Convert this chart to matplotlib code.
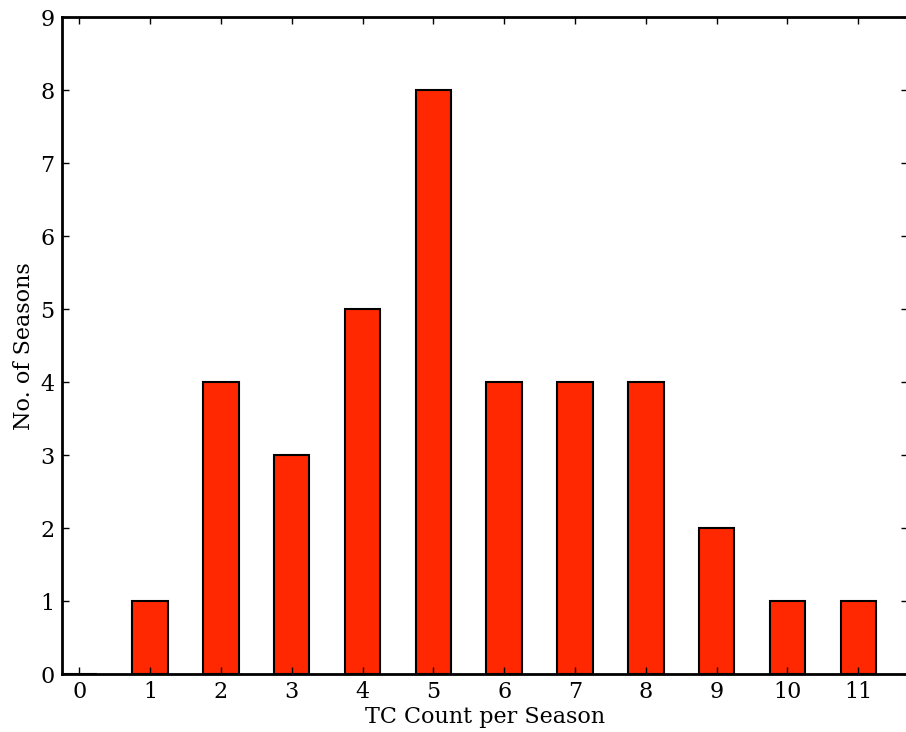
import matplotlib
matplotlib.use("Agg")
import matplotlib.pyplot as plt

tc_counts = [0, 1, 2, 3, 4, 5, 6, 7, 8, 9, 10, 11]
n_seasons = [0, 1, 4, 3, 5, 8, 4, 4, 4, 2, 1, 1]

plt.rcParams['font.family'] = ['DejaVu Serif']
fig = plt.figure(figsize=(9.06, 7.32), dpi=100)
ax = fig.add_axes([0.068, 0.0788, 0.934, 0.8976])
ax.bar(tc_counts, n_seasons, width=0.5, align='center', color='#ff2800',
       edgecolor='black', linewidth=1.5)
ax.set_xlim(-0.25, 11.7)
ax.set_ylim(0, 9)
ax.set_xticks(tc_counts)
ax.set_yticks(range(0, 10))
ax.tick_params(direction='in', length=5, width=1, top=True, right=True,
               labelsize=16, pad=5)
for s in ax.spines.values():
    s.set_linewidth(2)
ax.set_xlabel('TC Count per Season', fontsize=16, labelpad=2)
ax.set_ylabel('No. of Seasons', fontsize=16, labelpad=4)
fig.savefig('out.png', dpi=100)
